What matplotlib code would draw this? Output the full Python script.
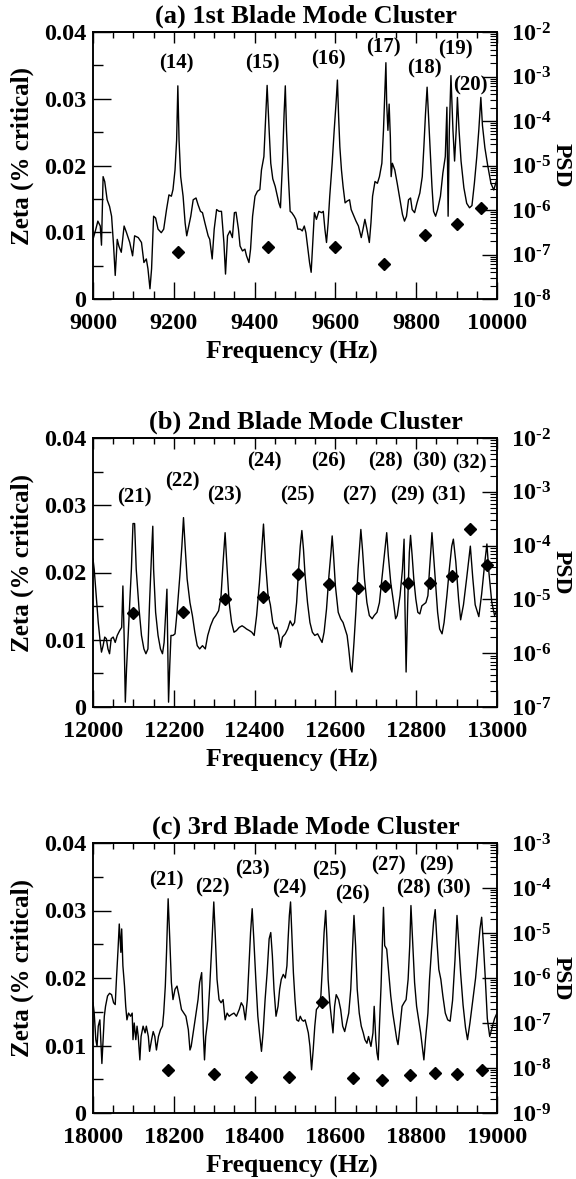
import numpy as np
import matplotlib
matplotlib.use('Agg')
import matplotlib.pyplot as plt
from matplotlib.ticker import MultipleLocator, LogLocator, FuncFormatter, NullFormatter

plt.rcParams['font.family'] = ['Liberation Serif', 'DejaVu Serif']
plt.rcParams['font.weight'] = 'bold'
plt.rcParams['mathtext.fontset'] = 'custom'
plt.rcParams['mathtext.rm'] = 'Liberation Serif:bold'
plt.rcParams['mathtext.bf'] = 'Liberation Serif:bold'
plt.rcParams['mathtext.it'] = 'Liberation Serif:bold:italic'
plt.rcParams['axes.linewidth'] = 1.1

titles = ['(a) 1st Blade Mode Cluster', '(b) 2nd Blade Mode Cluster', '(c) 3rd Blade Mode Cluster']
xranges = [(9000, 10000), (12000, 13000), (18000, 19000)]
psd_ranges = [(1e-8, 1e-2), (1e-7, 1e-2), (1e-9, 1e-3)]

# ---------------- Panel (a): 1st blade mode cluster ----------------
freq_a = [9000, 9007, 9012, 9018, 9021, 9025, 9029, 9035, 9041, 9046,
          9051, 9055, 9060, 9064, 9070, 9077, 9083, 9091, 9098, 9103,
          9112, 9120, 9126, 9132, 9136, 9141, 9145, 9150, 9155, 9161,
          9169, 9175, 9182, 9188, 9194, 9198, 9203, 9207, 9210, 9213,
          9217, 9223, 9228, 9232, 9236, 9242, 9248, 9255, 9260, 9266,
          9271, 9277, 9285, 9289, 9295, 9300, 9306, 9312, 9318, 9324,
          9328, 9333, 9339, 9345, 9350, 9354, 9360, 9364, 9370, 9376,
          9380, 9386, 9390, 9395, 9401, 9407, 9413, 9417, 9423, 9426,
          9431, 9436, 9440, 9445, 9451, 9460, 9464, 9469, 9473, 9476,
          9479, 9484, 9488, 9492, 9498, 9502, 9507, 9513, 9518, 9523,
          9527, 9531, 9536, 9540, 9543, 9548, 9553, 9559, 9566, 9570,
          9574, 9578, 9582, 9586, 9592, 9597, 9602, 9605, 9608, 9611,
          9615, 9619, 9624, 9629, 9635, 9639, 9646, 9651, 9657, 9664,
          9669, 9673, 9678, 9684, 9688, 9692, 9698, 9704, 9709, 9715,
          9719, 9722, 9725, 9727, 9730, 9733, 9736, 9738, 9741, 9747,
          9753, 9760, 9766, 9771, 9776, 9781, 9786, 9790, 9796, 9802,
          9809, 9815, 9819, 9823, 9827, 9831, 9835, 9839, 9843, 9848,
          9853, 9860, 9866, 9872, 9876, 9879, 9882, 9886, 9891, 9895,
          9899, 9902, 9906, 9911, 9918, 9925, 9932, 9938, 9944, 9950,
          9955, 9960, 9964, 9970, 9977, 9985, 9992, 10000]
psdexp_a = [-6.66, -6.43, -6.25, -6.36, -6.79, -5.25, -5.36, -5.77, -5.92, -6.14,
            -6.81, -7.47, -6.66, -6.81, -6.95, -6.36, -6.51, -6.73, -7.03, -6.58,
            -6.62, -6.73, -7.18, -7.10, -7.32, -7.77, -7.32, -6.14, -6.18, -6.43,
            -6.51, -6.43, -5.99, -5.66, -5.69, -5.54, -5.10, -4.43, -3.21, -4.43,
            -5.25, -5.69, -6.29, -6.58, -6.40, -6.14, -5.77, -5.73, -5.88, -6.03,
            -6.06, -6.29, -6.58, -6.66, -7.10, -6.43, -5.99, -6.03, -6.03, -6.73,
            -7.44, -6.58, -6.47, -6.62, -6.06, -6.05, -6.43, -6.81, -6.92, -6.88,
            -7.03, -7.18, -6.88, -6.14, -5.69, -5.58, -5.54, -5.10, -4.80, -4.21,
            -3.20, -4.21, -4.95, -5.30, -5.47, -5.84, -5.95, -4.95, -3.84, -3.21,
            -4.21, -5.32, -6.03, -6.06, -6.14, -6.21, -6.43, -6.43, -6.47, -6.36,
            -6.51, -6.81, -7.18, -7.40, -6.88, -6.06, -6.21, -6.03, -6.06, -6.03,
            -6.43, -6.73, -6.29, -5.69, -4.95, -4.21, -3.54, -3.08, -3.91, -4.58,
            -5.10, -5.47, -5.84, -5.80, -5.77, -5.99, -6.14, -6.25, -6.36, -6.62,
            -6.40, -6.21, -6.43, -6.73, -6.29, -5.69, -5.36, -5.40, -5.25, -4.95,
            -4.21, -3.47, -2.69, -3.62, -4.21, -3.62, -4.36, -5.25, -4.95, -5.10,
            -5.40, -5.77, -6.10, -6.25, -6.14, -5.77, -5.73, -5.99, -6.06, -5.84,
            -5.62, -5.25, -4.58, -3.84, -3.24, -3.99, -4.73, -5.47, -6.03, -6.14,
            -5.99, -5.69, -5.17, -4.80, -3.69, -6.14, -4.21, -2.98, -4.21, -4.90,
            -4.20, -3.47, -4.20, -4.90, -5.50, -5.85, -5.95, -5.90, -5.40, -4.80,
            -4.20, -3.47, -4.10, -4.60, -5.00, -5.40, -5.55, -5.30]
zfreq_a = [9210, 9432, 9598, 9720, 9823, 9901, 9960]
zeta_a = [0.0070, 0.0078, 0.0078, 0.0052, 0.0096, 0.0113, 0.0137]
lab_a = ['(14)', '(15)', '(16)', '(17)', '(18)', '(19)', '(20)']
labf_a = [9207, 9420, 9584, 9718, 9821, 9898, 9934]
labz_a = [0.0353, 0.0353, 0.0359, 0.0377, 0.0345, 0.0374, 0.0320]

# ---------------- Panel (b): 2nd blade mode cluster ----------------
freq_b = [12000, 12003, 12008, 12013, 12018, 12021, 12025, 12029, 12033, 12037,
          12041, 12045, 12050, 12055, 12060, 12066, 12071, 12074, 12077, 12080,
          12083, 12087, 12091, 12095, 12099, 12103, 12107, 12114, 12120, 12126,
          12131, 12136, 12140, 12145, 12148, 12150, 12155, 12161, 12167, 12172,
          12176, 12180, 12183, 12187, 12190, 12193, 12198, 12203, 12208, 12215,
          12220, 12224, 12228, 12233, 12240, 12246, 12252, 12258, 12264, 12271,
          12278, 12284, 12291, 12298, 12304, 12311, 12317, 12322, 12327, 12331,
          12337, 12343, 12349, 12355, 12362, 12369, 12375, 12380, 12387, 12393,
          12399, 12405, 12412, 12417, 12422, 12427, 12433, 12439, 12445, 12451,
          12455, 12460, 12464, 12469, 12476, 12482, 12488, 12494, 12499, 12504,
          12509, 12513, 12517, 12521, 12525, 12531, 12537, 12543, 12549, 12556,
          12562, 12567, 12572, 12578, 12584, 12589, 12592, 12595, 12600, 12607,
          12613, 12619, 12624, 12629, 12633, 12638, 12641, 12646, 12651, 12656,
          12660, 12663, 12667, 12672, 12678, 12684, 12691, 12696, 12703, 12709,
          12714, 12721, 12727, 12731, 12737, 12744, 12749, 12753, 12760, 12766,
          12770, 12772, 12775, 12779, 12783, 12786, 12790, 12794, 12799, 12804,
          12809, 12814, 12819, 12824, 12829, 12833, 12837, 12839, 12843, 12848,
          12853, 12858, 12864, 12869, 12876, 12882, 12888, 12892, 12898, 12905,
          12910, 12917, 12925, 12934, 12940, 12946, 12955, 12962, 12970, 12975,
          12980, 12987, 12994, 13000]
psdexp_b = [-4.25, -4.44, -4.93, -5.43, -5.80, -5.98, -5.86, -5.70, -5.73, -5.92,
            -6.01, -5.73, -5.70, -5.80, -5.67, -5.58, -5.52, -4.75, -5.67, -6.91,
            -6.29, -5.67, -5.06, -4.44, -3.59, -3.59, -4.44, -5.18, -5.67, -5.92,
            -6.01, -5.92, -5.06, -4.13, -3.64, -4.44, -5.24, -5.67, -5.92, -6.01,
            -5.80, -5.24, -4.81, -6.91, -6.23, -5.67, -5.67, -5.64, -5.24, -4.56,
            -4.01, -3.48, -4.01, -4.62, -5.06, -5.30, -5.61, -5.86, -5.92, -5.86,
            -5.92, -5.67, -5.49, -5.36, -5.30, -5.21, -4.93, -4.31, -3.76, -4.31,
            -5.06, -5.43, -5.61, -5.58, -5.52, -5.49, -5.52, -5.55, -5.58, -5.61,
            -5.67, -5.30, -4.69, -4.13, -3.60, -4.30, -4.90, -5.10, -5.43, -5.55,
            -5.52, -5.67, -5.89, -5.70, -5.64, -5.55, -5.40, -5.49, -5.43, -5.06,
            -4.44, -4.01, -3.72, -4.07, -4.56, -5.06, -5.43, -5.61, -5.67, -5.64,
            -5.73, -5.80, -5.61, -5.18, -4.56, -4.13, -3.82, -4.13, -4.75, -5.24,
            -5.36, -5.43, -5.55, -5.67, -5.92, -6.29, -6.35, -5.80, -5.18, -4.44,
            -4.01, -3.70, -4.07, -4.62, -5.06, -5.30, -5.36, -5.30, -5.24, -5.06,
            -4.69, -4.19, -3.76, -4.19, -4.69, -5.06, -5.36, -5.30, -4.93, -4.44,
            -3.88, -5.06, -6.35, -5.06, -4.13, -3.81, -4.19, -4.62, -4.99, -5.24,
            -5.27, -5.12, -5.09, -5.06, -4.93, -4.44, -4.01, -3.76, -4.19, -4.75,
            -5.24, -5.55, -5.64, -5.43, -4.93, -4.44, -4.01, -3.88, -4.30, -5.00,
            -5.38, -5.10, -4.60, -4.01, -4.60, -5.10, -5.32, -4.90, -4.30, -3.97,
            -4.50, -5.05, -5.30, -5.20]
zfreq_b = [12100, 12224, 12327, 12421, 12508, 12583, 12656, 12722, 12779, 12833,
           12888, 12934, 12975]
zeta_b = [0.0140, 0.0141, 0.0161, 0.0163, 0.0198, 0.0183, 0.0177, 0.0180, 0.0184, 0.0185,
          0.0195, 0.0265, 0.0211]
lab_b = ['(21)', '(22)', '(23)', '(24)', '(25)', '(26)', '(27)', '(28)', '(29)', '(30)',
         '(31)', '(32)']
labf_b = [12102, 12221, 12326, 12423, 12505, 12584, 12660, 12723, 12779, 12834,
          12880, 12932]
labz_b = [0.0312, 0.0335, 0.0314, 0.0365, 0.0314, 0.0365, 0.0314, 0.0365, 0.0314, 0.0365,
          0.0314, 0.0362]

# ---------------- Panel (c): 3rd blade mode cluster ----------------
freq_c = [18000, 18003, 18007, 18010, 18013, 18017, 18020, 18022, 18025, 18028,
          18031, 18036, 18041, 18046, 18051, 18055, 18058, 18062, 18065, 18069,
          18071, 18074, 18078, 18081, 18084, 18088, 18093, 18097, 18099, 18102,
          18106, 18109, 18112, 18116, 18119, 18124, 18129, 18132, 18137, 18140,
          18145, 18149, 18153, 18157, 18162, 18167, 18172, 18175, 18179, 18182,
          18186, 18190, 18194, 18198, 18203, 18208, 18213, 18219, 18225, 18230,
          18236, 18240, 18243, 18248, 18254, 18260, 18264, 18269, 18273, 18276,
          18279, 18284, 18289, 18294, 18299, 18303, 18307, 18312, 18317, 18322,
          18327, 18332, 18337, 18343, 18349, 18355, 18362, 18367, 18372, 18377,
          18382, 18386, 18390, 18394, 18398, 18403, 18408, 18413, 18417, 18421,
          18426, 18431, 18436, 18440, 18444, 18448, 18453, 18458, 18462, 18466,
          18471, 18476, 18480, 18483, 18486, 18489, 18492, 18496, 18500, 18504,
          18509, 18513, 18517, 18521, 18525, 18529, 18533, 18537, 18541, 18545,
          18549, 18553, 18559, 18564, 18568, 18572, 18576, 18579, 18582, 18586,
          18592, 18594, 18598, 18602, 18608, 18613, 18618, 18623, 18628, 18633,
          18638, 18642, 18646, 18650, 18654, 18659, 18664, 18669, 18673, 18678,
          18682, 18688, 18693, 18696, 18700, 18703, 18706, 18709, 18713, 18716,
          18719, 18722, 18727, 18732, 18737, 18742, 18747, 18752, 18755, 18760,
          18765, 18770, 18775, 18780, 18784, 18787, 18791, 18796, 18801, 18806,
          18811, 18815, 18819, 18823, 18829, 18833, 18838, 18843, 18847, 18851,
          18856, 18861, 18866, 18872, 18878, 18884, 18890, 18896, 18901, 18905,
          18910, 18916, 18922, 18927, 18933, 18940, 18947, 18953, 18958, 18962,
          18966, 18971, 18976, 18982, 18988, 18994, 19000]
psdexp_c = [-6.55, -6.78, -7.37, -7.52, -7.07, -6.93, -7.52, -7.90, -7.37, -6.85,
            -6.63, -6.40, -6.34, -6.37, -6.55, -6.59, -6.03, -5.36, -4.80, -5.43,
            -4.91, -5.73, -6.18, -6.63, -6.93, -6.78, -6.85, -6.78, -7.37, -7.00,
            -7.37, -7.07, -7.30, -7.82, -7.30, -7.07, -7.22, -7.07, -7.30, -7.63,
            -7.37, -7.19, -7.30, -7.60, -7.30, -7.15, -7.07, -6.78, -6.18, -5.43,
            -4.24, -5.13, -6.10, -6.48, -6.25, -6.18, -6.40, -6.70, -6.78, -6.85,
            -7.15, -7.60, -7.52, -7.22, -6.85, -6.48, -6.10, -5.88, -7.22, -7.82,
            -7.30, -6.93, -6.18, -5.28, -4.31, -5.13, -6.03, -6.48, -6.55, -6.48,
            -6.93, -6.78, -6.85, -6.81, -6.78, -6.85, -6.70, -6.55, -6.63, -6.93,
            -6.48, -5.73, -4.99, -4.46, -5.13, -6.03, -6.85, -7.30, -7.63, -7.22,
            -6.48, -5.88, -5.13, -4.99, -5.51, -6.25, -6.85, -6.63, -6.25, -6.03,
            -5.92, -6.00, -5.73, -5.13, -4.61, -4.31, -4.99, -5.88, -6.48, -6.93,
            -6.96, -6.85, -6.93, -6.96, -6.93, -7.07, -7.22, -7.52, -8.04, -7.60,
            -7.07, -6.70, -6.63, -6.40, -5.73, -4.99, -4.50, -5.13, -6.03, -6.55,
            -7.07, -7.22, -6.63, -6.37, -6.48, -6.70, -7.07, -7.19, -6.99, -6.78,
            -6.25, -5.43, -4.61, -5.28, -6.25, -6.78, -7.07, -7.22, -7.37, -7.45,
            -7.30, -7.52, -7.22, -6.63, -7.37, -7.67, -7.82, -7.07, -6.18, -5.28,
            -4.43, -5.28, -5.36, -5.88, -6.40, -6.78, -7.07, -7.37, -7.48, -7.07,
            -6.63, -6.55, -6.48, -6.03, -5.28, -4.39, -5.13, -6.10, -6.63, -6.93,
            -7.22, -7.52, -7.82, -7.37, -6.78, -6.03, -5.36, -4.76, -4.48, -5.13,
            -5.81, -6.03, -6.40, -6.78, -6.93, -6.96, -6.50, -5.60, -4.61, -5.19,
            -5.90, -6.60, -7.10, -7.37, -7.00, -6.50, -6.00, -5.40, -4.90, -4.65,
            -5.20, -6.00, -6.90, -7.30, -7.10, -6.90, -6.78]
zfreq_c = [18185, 18300, 18392, 18484, 18567, 18644, 18716, 18785, 18846, 18902, 18962]
zeta_c = [0.0063, 0.0058, 0.0053, 0.0053, 0.0165, 0.0052, 0.0049, 0.0056, 0.0059, 0.0058, 0.0063]
lab_c = ['(21)', '(22)', '(23)', '(24)', '(25)', '(26)', '(27)', '(28)', '(29)', '(30)']
labf_c = [18182, 18296, 18394, 18487, 18584, 18641, 18732, 18793, 18850, 18893]
labz_c = [0.0344, 0.0334, 0.0361, 0.0332, 0.0359, 0.0323, 0.0366, 0.0332, 0.0366, 0.0332]

panels = [
    (freq_a, psdexp_a, zfreq_a, zeta_a, lab_a, labf_a, labz_a),
    (freq_b, psdexp_b, zfreq_b, zeta_b, lab_b, labf_b, labz_b),
    (freq_c, psdexp_c, zfreq_c, zeta_c, lab_c, labf_c, labz_c),
]

W, H = 576, 1179
fig = plt.figure(figsize=(W / 100, H / 100), dpi=100)
boxes = [(32, 299), (438, 707), (843, 1113)]
left_px, right_px = 93, 497
axw = right_px - left_px

TICK_FS = 17.5
RTICK_FS = 17.5
XLAB_FS = 18.5
YLAB_FS = 18
TITLE_FS = 19
PEAK_FS = 15
PSD_FS = 17


def zeta_fmt(v, pos):
    if abs(v) < 1e-12:
        return '0'
    return '%.2f' % v


def psd_fmt(v, pos):
    e = int(round(np.log10(v)))
    return '$\\mathbf{10^{\u2010%d}}$' % (-e)


for i, (fr, pe, zf, zv, labs, lf, lz) in enumerate(panels):
    top, bot = boxes[i]
    axh = bot - top
    ax = fig.add_axes([left_px / W, 1 - bot / H, axw / W, axh / H])
    ax2 = ax.twinx()

    # PSD curve on the log (right) axis
    ax2.plot(fr, np.power(10.0, pe), color='black', lw=1.0)
    ax2.set_yscale('log')
    ax2.set_ylim(*psd_ranges[i])
    ax2.yaxis.set_major_locator(LogLocator(base=10, numticks=20))
    ax2.yaxis.set_minor_locator(LogLocator(base=10, subs=np.arange(2, 10), numticks=20))
    ax2.yaxis.set_major_formatter(FuncFormatter(psd_fmt))
    ax2.yaxis.set_minor_formatter(NullFormatter())
    ax2.tick_params(axis='y', which='major', direction='in', length=11, width=1.0,
                    labelsize=RTICK_FS, pad=10)
    ax2.tick_params(axis='y', which='minor', direction='in', length=5, width=0.8)
    ax2.set_ylabel('PSD', rotation=270, fontsize=PSD_FS, fontweight='bold')
    ax2.yaxis.set_label_coords((561 - left_px) / axw, 0.5)
    ax2.yaxis.label.set_va('center')

    # Zeta diamonds on the linear (left) axis
    ax.plot(zf, zv, linestyle='none', marker='D', markersize=6, color='black', zorder=5)
    ax.set_xlim(*xranges[i])
    ax.set_ylim(0, 0.04)
    ax.xaxis.set_major_locator(MultipleLocator(200))
    ax.xaxis.set_minor_locator(MultipleLocator(50))
    ax.yaxis.set_major_locator(MultipleLocator(0.01))
    ax.yaxis.set_minor_locator(MultipleLocator(0.005))
    ax.yaxis.set_major_formatter(FuncFormatter(zeta_fmt))
    ax.tick_params(axis='x', which='major', direction='in', length=12, width=1.0,
                   top=False, labelsize=TICK_FS, pad=10)
    ax.tick_params(axis='x', which='minor', direction='in', length=6, width=1.0, top=False)
    ax.tick_params(axis='y', which='major', direction='in', length=13, width=1.0,
                   right=False, labelsize=TICK_FS, pad=5)
    ax.tick_params(axis='y', which='minor', direction='in', length=7, width=1.0, right=False)

    # shorter ticks along the top edge
    sec = ax.secondary_xaxis('top')
    sec.xaxis.set_major_locator(MultipleLocator(200))
    sec.xaxis.set_minor_locator(MultipleLocator(50))
    sec.tick_params(axis='x', which='major', direction='in', length=8, width=1.0, labeltop=False)
    sec.tick_params(axis='x', which='minor', direction='in', length=4.5, width=1.0)

    ax.set_xlabel('Frequency (Hz)', fontsize=XLAB_FS, fontweight='bold')
    ax.xaxis.set_label_coords(0.492, -53.0 / axh)
    ax.xaxis.label.set_va('center')
    ax.set_ylabel('Zeta (% critical)', fontsize=YLAB_FS, fontweight='bold')
    ax.yaxis.set_label_coords((22 - left_px) / axw, 0.537)
    ax.yaxis.label.set_va('center')
    ax.text(0.526, 1 + 16.0 / axh, titles[i], transform=ax.transAxes, ha='center',
            va='center', fontsize=TITLE_FS, fontweight='bold')

    for t, x, y in zip(labs, lf, lz):
        ax.text(x, y, t, ha='center', va='center', fontsize=PEAK_FS, fontweight='bold')

    ax.set_zorder(ax2.get_zorder() + 1)
    ax.patch.set_visible(False)

fig.savefig('out.png', dpi=100)
